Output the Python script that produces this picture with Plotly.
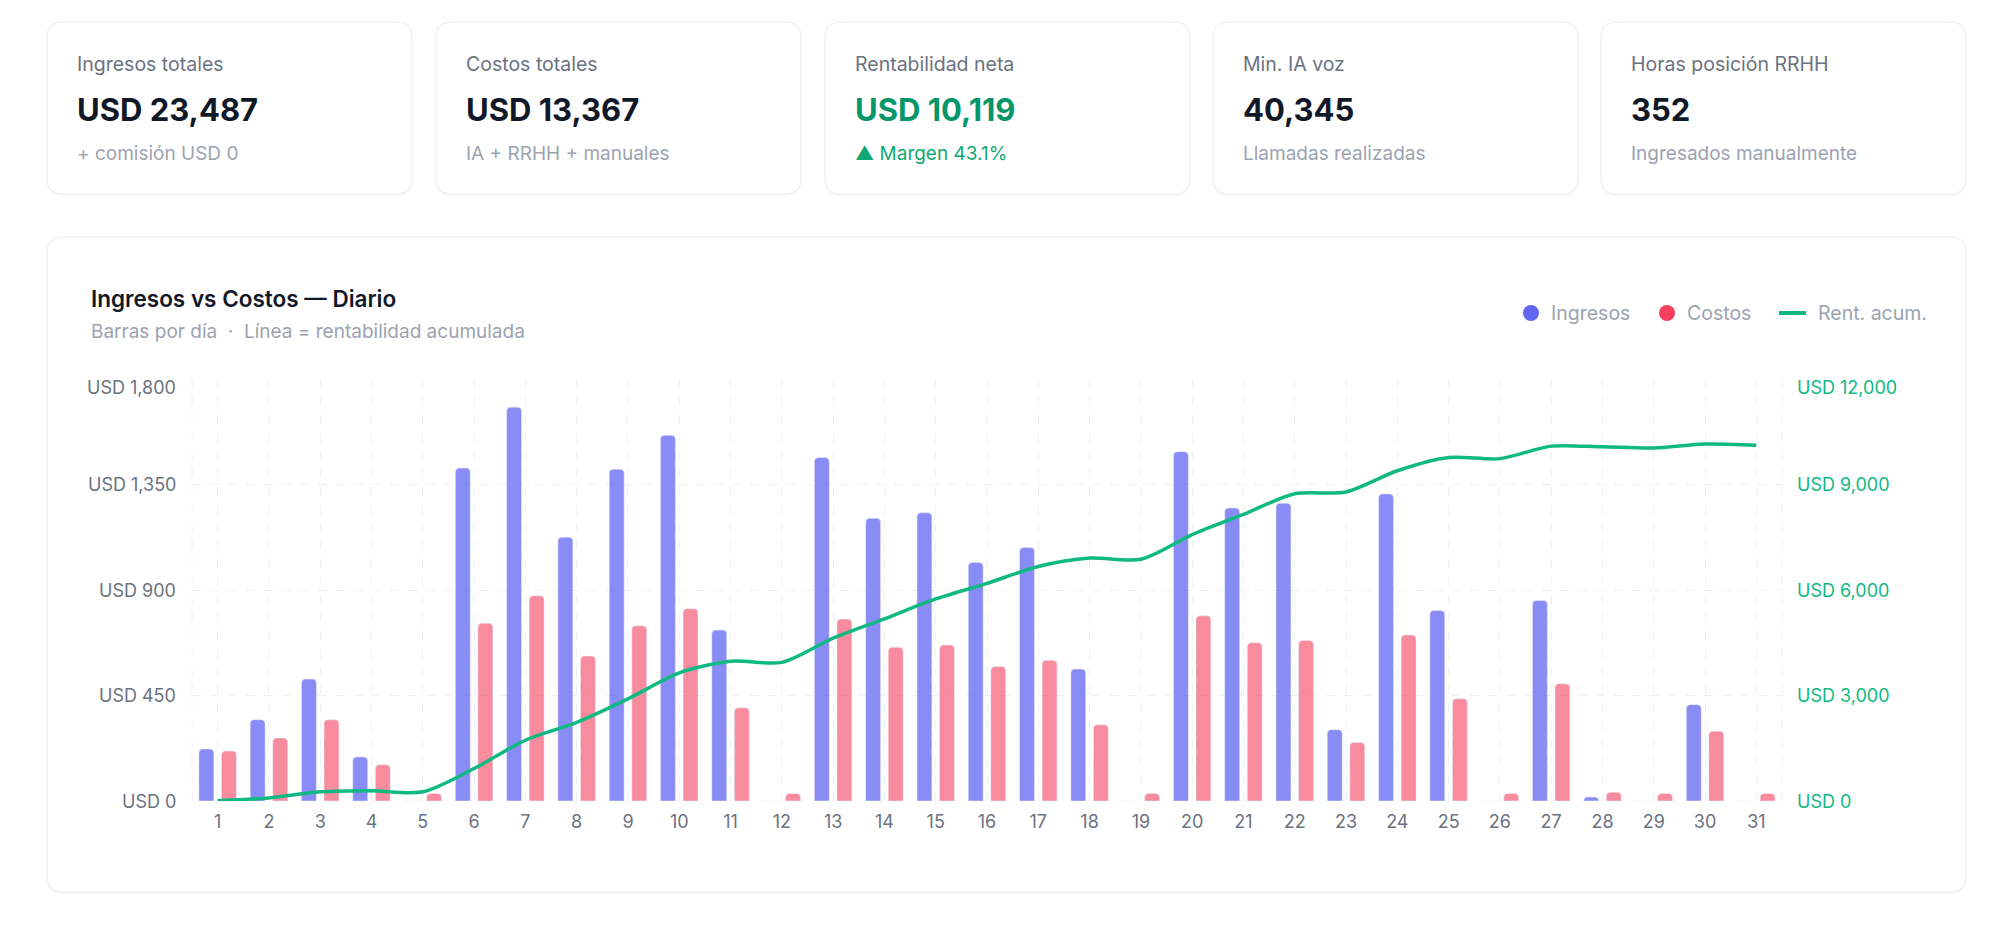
import plotly.graph_objects as go

W, H = 2000, 933

# data
dias = [str(d) for d in range(1, 32)]
ingresos = [222, 347, 520, 188, 0, 1420, 1680, 1125, 1415, 1560, 729, 0, 1465, 1206, 1229, 1017,
            1081, 563, 0, 1490, 1250, 1270, 304, 1310, 813, 0, 855, 17, 0, 411, 0]
costos = [213, 269, 347, 155, 32, 758, 875, 618, 747, 820, 398, 32, 776, 656, 665, 574,
          600, 325, 32, 790, 675, 685, 250, 708, 436, 32, 500, 37, 32, 298, 32]
rent_acum = [9, 87, 260, 293, 261, 923, 1728, 2235, 2903, 3643, 3974, 3942, 4631, 5181, 5745, 6188,
             6669, 6907, 6875, 7575, 8150, 8735, 8789, 9391, 9768, 9736, 10091, 10071, 10039, 10152, 10119]

y_left_ticks = [0, 450, 900, 1350, 1800]
y_left_labels = ["USD 0", "USD 450", "USD 900", "USD 1,350", "USD 1,800"]
y_right_ticks = [0, 3000, 6000, 9000, 12000]
y_right_labels = ["USD 0", "USD 3,000", "USD 6,000", "USD 9,000", "USD 12,000"]

kpi_labels = ["Ingresos totales", "Costos totales", "Rentabilidad neta", "Min. IA voz", "Horas posición RRHH"]
kpi_values = ["USD 23,487", "USD 13,367", "USD 10,119", "40,345", "352"]
kpi_subs = ["+ comisión USD 0", "IA + RRHH + manuales", "▲ Margen 43.1%", "Llamadas realizadas",
            "Ingresados manualmente"]

BLUE = "#6366F1"
RED = "#F43F5E"
GREEN = "#10B981"
FONT = "Inter, Roboto, sans-serif"


def fx(px):
    return px / W


def fy(py):
    return 1 - py / H


def rrect(x0, y0, x1, y1, r):
    pts = [("M", [(x0 + r, y0)]), ("L", [(x1 - r, y0)]), ("Q", [(x1, y0), (x1, y0 + r)]),
           ("L", [(x1, y1 - r)]), ("Q", [(x1, y1), (x1 - r, y1)]), ("L", [(x0 + r, y1)]),
           ("Q", [(x0, y1), (x0, y1 - r)]), ("L", [(x0, y0 + r)]), ("Q", [(x0, y0), (x0 + r, y0)])]
    s = ""
    for cmd, ps in pts:
        s += cmd + " ".join(f"{fx(a):.5f},{fy(b):.5f}" for a, b in ps) + " "
    return s + "Z"


def card(x0, y0, x1, y1):
    return [
        dict(type="path", path=rrect(x0, y0 + 3, x1, y1 + 3, 16), xref="paper", yref="paper",
             fillcolor="rgba(15,23,42,0.025)", line=dict(width=0), layer="below"),
        dict(type="path", path=rrect(x0, y0, x1, y1, 16), xref="paper", yref="paper",
             fillcolor="white", line=dict(color="#ECEEF1", width=1.2), layer="below"),
    ]


def label(px, py, text, size, color, weight=400):
    return dict(x=fx(px), y=fy(py), xref="paper", yref="paper", text=text, showarrow=False,
                xanchor="left", yanchor="middle",
                font=dict(size=size, color=color, family=FONT, weight=weight))


fig = go.Figure()

fig.add_trace(go.Bar(x=dias, y=ingresos, name="Ingresos",
                     marker=dict(color="rgba(99,102,241,0.75)", cornerradius=4)))
fig.add_trace(go.Bar(x=dias, y=costos, name="Costos",
                     marker=dict(color="rgba(244,63,94,0.6)", cornerradius=4)))
fig.add_trace(go.Scatter(x=dias, y=rent_acum, name="Rent. acum.", yaxis="y2", mode="lines",
                         line=dict(color=GREEN, width=3.5, shape="spline", smoothing=0.8)))

shapes = []
annotations = []

# KPI cards
card_left = [47, 436, 825, 1213, 1601]
for i, left in enumerate(card_left):
    shapes += card(left, 22, left + 365, 194)
    annotations.append(label(left + 28, 64, kpi_labels[i], 19.5, "#6B7280"))
    annotations.append(label(left + 28, 110, kpi_values[i], 31,
                             "#059669" if i == 2 else "#111827", 700))
    annotations.append(label(left + 28, 153, kpi_subs[i], 19,
                             "#10A872" if i == 2 else "#9CA3AF"))

# chart card
shapes += card(47, 237, 1966, 892)
annotations.append(label(89, 298, "Ingresos vs Costos — Diario", 22.5, "#111827", 600))
annotations.append(label(89, 332, "Barras por día  ·  Línea = rentabilidad acumulada", 19, "#9CA3AF"))

# legend
leg_y = 313
for cx, col in [(1531, BLUE), (1667, RED)]:
    shapes.append(dict(type="circle", xref="paper", yref="paper", x0=fx(cx - 8), x1=fx(cx + 8),
                       y0=fy(leg_y - 8), y1=fy(leg_y + 8), fillcolor=col, line=dict(width=0)))
shapes.append(dict(type="line", xref="paper", yref="paper", x0=fx(1779), x1=fx(1806),
                   y0=fy(leg_y), y1=fy(leg_y), line=dict(color=GREEN, width=4)))
for lx, txt in [(1549, "Ingresos"), (1685, "Costos"), (1816, "Rent. acum.")]:
    annotations.append(label(lx, leg_y, txt, 19.5, "#9CA3AF"))

# y tick labels (top one sits just under its gridline, like the original)
for v, t in zip(y_left_ticks, y_left_labels):
    annotations.append(dict(x=fx(178), y=v, xref="paper", yref="y", text=t, showarrow=False,
                            xanchor="right", yanchor="middle", yshift=-8 if v == y_left_ticks[-1] else 0,
                            font=dict(size=18, color="#6B7280", family=FONT)))
for v, t in zip(y_right_ticks, y_right_labels):
    annotations.append(dict(x=fx(1795), y=v, xref="paper", yref="y2", text=t, showarrow=False,
                            xanchor="left", yanchor="middle", yshift=-8 if v == y_right_ticks[-1] else 0,
                            font=dict(size=18, color=GREEN, family=FONT)))

# dashed edges of the plot area
for xe in [0, 1]:
    shapes.append(dict(type="line", xref="x domain", yref="y domain", x0=xe, x1=xe, y0=0, y1=1,
                       line=dict(color="#EEF0F3", width=1, dash="dash"), layer="below"))

fig.update_layout(
    width=W, height=H,
    margin=dict(l=0, r=0, t=0, b=0, autoexpand=False),
    paper_bgcolor="white", plot_bgcolor="rgba(0,0,0,0)",
    font=dict(family=FONT),
    barmode="group", bargap=0.12, bargroupgap=0.34,
    showlegend=False,
    shapes=shapes, annotations=annotations,
    xaxis=dict(domain=[fx(192), fx(1782)], type="category", range=[-0.5, 30.5],
               showgrid=True, gridcolor="#EEF0F3", griddash="dash", gridwidth=1,
               showline=False, zeroline=False, ticks="", ticklabelstandoff=8,
               tickfont=dict(size=18, color="#6B7280", family=FONT)),
    yaxis=dict(domain=[fy(801), fy(379)], range=[0, 1800], tickvals=y_left_ticks,
               showticklabels=False, showgrid=True, gridcolor="#EEF0F3", griddash="dash",
               zeroline=False, showline=False, ticks=""),
    yaxis2=dict(overlaying="y", side="right", range=[0, 12000], tickvals=y_right_ticks,
                showticklabels=False, showgrid=False, zeroline=False, showline=False, ticks=""),
)

fig.write_html("out.html", config={"displayModeBar": False},
               post_script="document.body.style.margin='0';")
